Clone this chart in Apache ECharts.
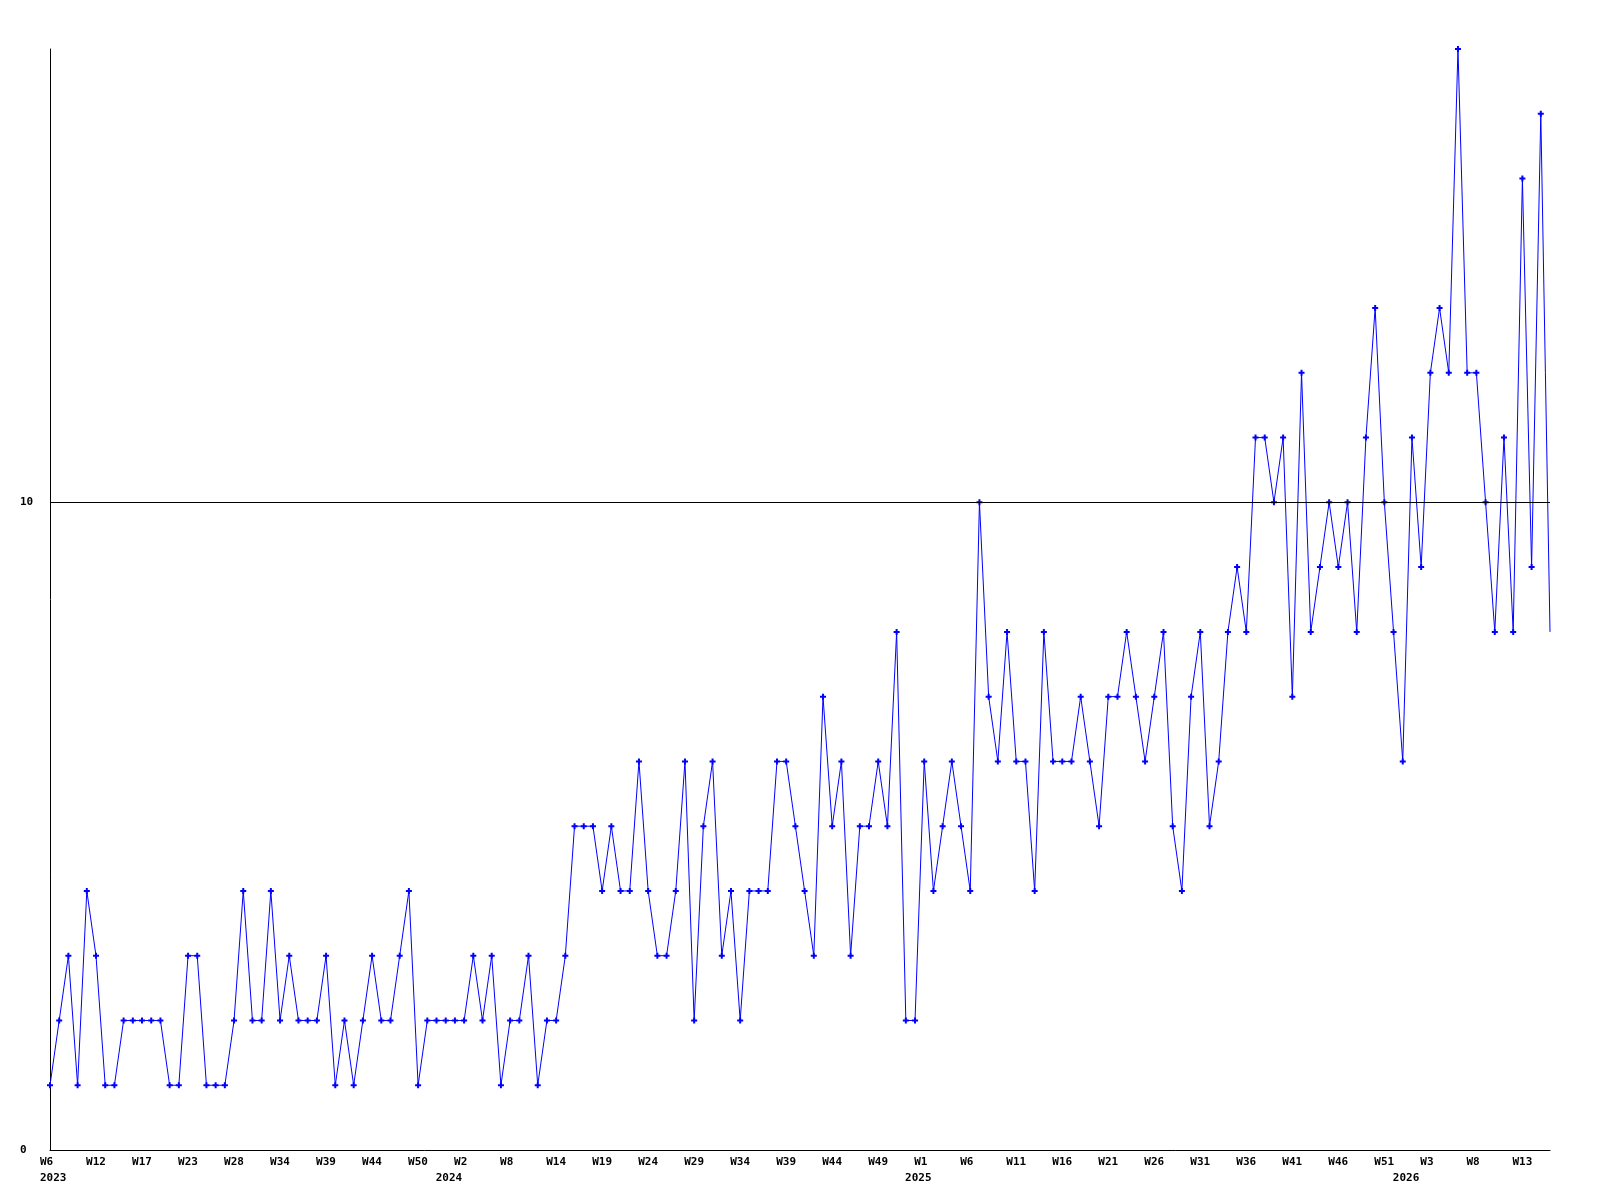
<!DOCTYPE html>
<html>
<head>
<meta charset="utf-8">
<script src="https://cdn.jsdelivr.net/npm/echarts@6/dist/echarts.min.js"></script>
<style>
  html, body { margin: 0; padding: 0; background: #fff; }
  #chart { width: 1600px; height: 1200px; }
</style>
</head>
<body>
<div id="chart"></div>
<script>
// one value per point
const values = [
  1, 2, 3, 1, 4, 3, 1, 1, 2, 2, 2, 2, 2, 1, 1, 3, 3, 1, 1, 1, 2,
  4, 2, 2, 4, 2, 3, 2, 2, 2, 3, 1, 2, 1, 2, 3, 2, 2, 3, 4,
  1, 2, 2, 2, 2, 2, 3, 2, 3, 1, 2, 2, 3, 1, 2, 2, 3, 5, 5, 5,
  4, 5, 4, 4, 6, 4, 3, 3, 4, 6, 2, 5, 6, 3, 4, 2, 4, 4, 4,
  6, 6, 5, 4, 3, 7, 5, 6, 3, 5, 5, 6, 5, 8, 2, 2, 6, 4, 5, 6,
  5, 4, 10, 7, 6, 8, 6, 6, 4, 8, 6, 6, 6, 7, 6, 5, 7, 7, 8, 7,
  6, 7, 8, 5, 4, 7, 8, 5, 6, 8, 9, 8, 11, 11, 10, 11, 7, 12, 8, 9, 10, 9,
  10, 8, 11, 13, 10, 8, 6, 11, 9, 12, 13, 12, 17, 12, 12, 10, 8, 11, 8, 15, 9, 16, 8
]

// week labels, one every 5 points
const weekLabels = [
  'W6', 'W12', 'W17', 'W23', 'W28', 'W34', 'W39', 'W44', 'W50',
  'W2', 'W8', 'W14', 'W19', 'W24', 'W29', 'W34', 'W39', 'W44', 'W49',
  'W1', 'W6', 'W11', 'W16', 'W21', 'W26', 'W31', 'W36', 'W41', 'W46', 'W51',
  'W3', 'W8', 'W13'
]
const weekStep = 5

// year labels and the point they sit under
const years = ['2023', '2024', '2025', '2026']
const yearPos = [0, 43, 94, 147]

const categories = values.map((v, i) => i)

const labelFont = {
  fontFamily: 'DejaVu Sans Mono',
  fontSize: 11,
  fontWeight: 'bold',
  color: '#000'
}

// last point is drawn without a marker
const seriesData = values.map((v, i) => (i === values.length - 1 ? { value: v, symbol: 'none' } : v))

const myChart = echarts.init(document.getElementById('chart'))

const option = {
  animation: false,
  backgroundColor: '#fff',
  grid: {
    left: 50,
    right: 50,
    top: 49,
    bottom: 50
  },
  xAxis: [
    {
      type: 'category',
      data: categories,
      boundaryGap: false,
      position: 'bottom',
      axisLine: { show: true, lineStyle: { color: '#000', width: 1 } },
      axisTick: { show: false },
      splitLine: { show: false },
      axisLabel: Object.assign({
        interval: function (i) { return i % weekStep === 0 },
        formatter: function (v, i) { return weekLabels[i / weekStep] || '' },
        align: 'left',
        padding: [0, 0, 0, -10],
        margin: 7
      }, labelFont)
    },
    {
      type: 'category',
      data: categories,
      boundaryGap: false,
      position: 'bottom',
      axisLine: { show: false },
      axisTick: { show: false },
      splitLine: { show: false },
      axisLabel: Object.assign({
        interval: function (i) { return yearPos.indexOf(i) >= 0 },
        formatter: function (v, i) { return years[yearPos.indexOf(i)] || '' },
        align: 'left',
        padding: [0, 0, 0, -10],
        margin: 23
      }, labelFont)
    }
  ],
  yAxis: {
    type: 'value',
    min: 0,
    max: 17,
    interval: 10,
    axisLine: { show: true, lineStyle: { color: '#000', width: 1 } },
    axisTick: { show: false },
    splitLine: { show: false },
    axisLabel: Object.assign({
      align: 'left',
      margin: 30,
      showMaxLabel: false,
      formatter: function (v) { return v % 10 === 0 ? String(v) : '' }
    }, labelFont)
  },
  series: [
    {
      type: 'line',
      xAxisIndex: 0,
      data: seriesData,
      // small bold plus marker
      symbol: 'path://M2,0 L4,0 L4,2 L6,2 L6,4 L4,4 L4,6 L2,6 L2,4 L0,4 L0,2 L2,2 Z',
      symbolSize: 6,
      showAllSymbol: true,
      lineStyle: { color: '#0000ff', width: 1 },
      itemStyle: { color: '#0000ff' },
      markLine: {
        silent: true,
        symbol: 'none',
        label: { show: false },
        lineStyle: { color: '#000', width: 1, type: 'solid' },
        data: [{ yAxis: 10 }]
      }
    }
  ]
}

myChart.setOption(option)
</script>
</body>
</html>
